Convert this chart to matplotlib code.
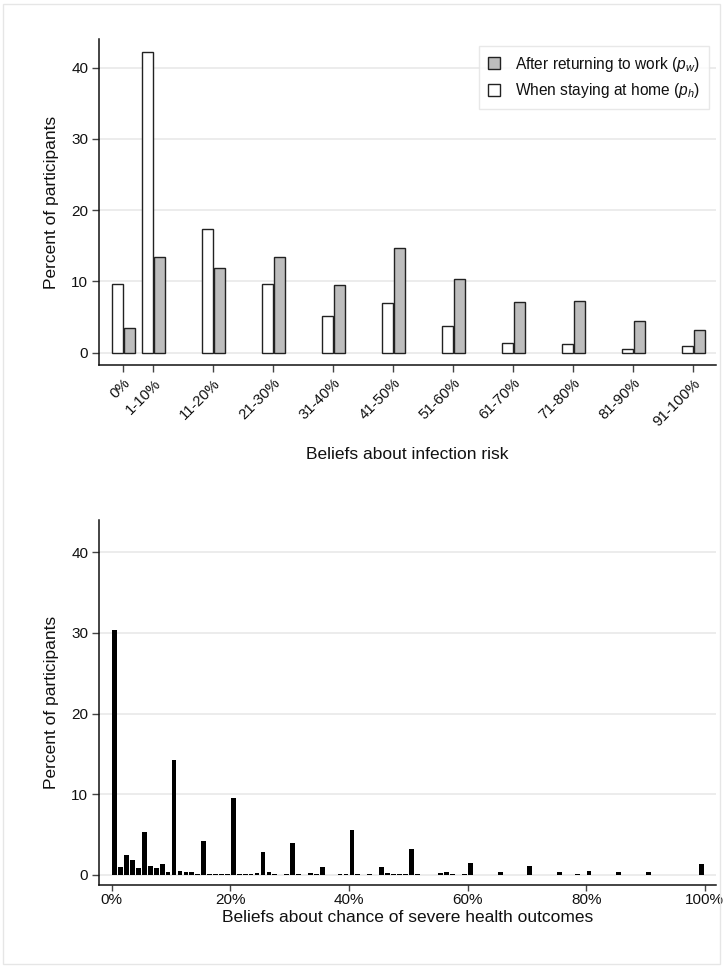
import matplotlib
matplotlib.use("Agg")
import matplotlib.pyplot as plt
from matplotlib.patches import Patch, Rectangle
import numpy as np

plt.rcParams['font.family'] = ['Liberation Sans', 'DejaVu Sans']
plt.rcParams['mathtext.fontset'] = 'custom'
plt.rcParams['mathtext.rm'] = 'Liberation Sans'
plt.rcParams['mathtext.it'] = 'Liberation Sans:italic'

# ---- Top panel data ----
categories = ['0%', '1-10%', '11-20%', '21-30%', '31-40%', '41-50%',
              '51-60%', '61-70%', '71-80%', '81-90%', '91-100%']
cat_pos = [0, 0.5, 1.5, 2.5, 3.5, 4.5, 5.5, 6.5, 7.5, 8.5, 9.5]
home = [9.7, 42.2, 17.3, 9.7, 5.15, 7.0, 3.75, 1.3, 1.2, 0.55, 0.9]
work = [3.5, 13.45, 11.9, 13.45, 9.5, 14.7, 10.4, 7.1, 7.3, 4.4, 3.2]

# ---- Bottom panel data (bins of 1 percentage point starting at 0; last bin holds 99-100) ----
bin_start = list(range(0, 100))
severe = [30.4, 1.0, 2.5, 1.9, 0.9, 5.3, 1.1, 0.9, 1.4, 0.3,
          14.3, 0.5, 0.4, 0.3, 0.1, 4.2, 0.1, 0.1, 0.1, 0.1,
          9.5, 0.1, 0.1, 0.1, 0.2, 2.85, 0.3, 0.1, 0.0, 0.1,
          4.0, 0.1, 0.0, 0.2, 0.1, 1.0, 0.0, 0.0, 0.1, 0.1,
          5.6, 0.1, 0.0, 0.1, 0.0, 1.0, 0.2, 0.1, 0.1, 0.1,
          3.2, 0.1, 0.0, 0.0, 0.0, 0.2, 0.4, 0.1, 0.0, 0.1,
          1.5, 0.0, 0.0, 0.0, 0.0, 0.3, 0.0, 0.0, 0.0, 0.0,
          1.1, 0.0, 0.0, 0.0, 0.0, 0.4, 0.0, 0.0, 0.1, 0.0,
          0.5, 0.0, 0.0, 0.0, 0.0, 0.3, 0.0, 0.0, 0.0, 0.0,
          0.4, 0.0, 0.0, 0.0, 0.0, 0.0, 0.0, 0.0, 0.0, 1.3]
xticks_bottom = [0, 20, 40, 60, 80, 100]
xticklabels_bottom = ['0%', '20%', '40%', '60%', '80%', '100%']
yticks = [0, 10, 20, 30, 40]

W, H = 724, 967
fig = plt.figure(figsize=(W / 100, H / 100), dpi=100)
fig.patch.set_facecolor('white')
fig.add_artist(Rectangle((3 / W, 3 / H), 1 - 7 / W, 1 - 7 / H, transform=fig.transFigure,
                         fill=False, edgecolor='#e6e6e6', linewidth=1.0))

grid_col = '#ebebeb'
txt_col = '#111111'
axis_col = '#111111'


def style_axes(ax):
    for s in ['top', 'right']:
        ax.spines[s].set_visible(False)
    for s in ['left', 'bottom']:
        ax.spines[s].set_color(axis_col)
        ax.spines[s].set_linewidth(1.1)
    ax.set_yticks(yticks)
    ax.tick_params(axis='both', direction='out', length=5, width=1.0, color='#444444',
                   labelsize=11, labelcolor=txt_col, pad=3)
    ax.yaxis.grid(True, color=grid_col, linewidth=1.3)
    ax.set_axisbelow(True)
    ax.set_ylabel('Percent of participants', fontsize=12.5, color=txt_col, labelpad=9)


# ---- Top panel ----
ax1 = fig.add_axes([99.3 / W, 1 - 365 / H, (716 - 99.3) / W, (365 - 39) / H])
bw = 0.183
gap = 0.017
pos = np.array(cat_pos)
ax1.bar(pos - bw / 2, home, width=bw, color='white', edgecolor='#222222', linewidth=1.0,
        label=r'When staying at home ($p_h$)', zorder=3)
ax1.bar(pos + gap + bw / 2, work, width=bw, color='#bdbdbd', edgecolor='#222222', linewidth=1.0,
        label=r'After returning to work ($p_w$)', zorder=3)
ax1.set_xlim(-0.4, 9.88)
ax1.set_ylim(-1.72, 44.0)
style_axes(ax1)
ax1.set_xticks(cat_pos)
ax1.set_xticklabels(categories, rotation=45, ha='right', rotation_mode='anchor', fontsize=10.8)
ax1.set_xlabel('Beliefs about infection risk', fontsize=12.5, color=txt_col, labelpad=13)

handles = [Patch(facecolor='#bdbdbd', edgecolor='#222222', linewidth=1.0),
           Patch(facecolor='white', edgecolor='#222222', linewidth=1.0)]
labels = [r'After returning to work ($p_w$)', r'When staying at home ($p_h$)']
leg = ax1.legend(handles, labels, loc='upper right', bbox_to_anchor=(0.9886, 0.9785),
                 fontsize=11.2, frameon=True, fancybox=False, handlelength=0.75, handleheight=0.75,
                 handletextpad=1.0, borderpad=0.55, labelspacing=0.5, borderaxespad=0)
leg.get_frame().set_edgecolor('#e3e3e3')
leg.get_frame().set_linewidth(1.0)
for t in leg.get_texts():
    t.set_color(txt_col)

# ---- Bottom panel ----
ax2 = fig.add_axes([99.3 / W, 1 - 885 / H, (716 - 99.3) / W, (885 - 520) / H])
centers = np.array(bin_start) + 0.5
ax2.bar(centers, severe, width=0.8, color='black', edgecolor='none', zorder=3)
ax2.set_xlim(-2.1, 101.9)
ax2.set_ylim(-1.25, 44.0)
style_axes(ax2)
ax2.tick_params(axis='x', length=4, pad=2)
ax2.set_xticks(xticks_bottom)
ax2.set_xticklabels(xticklabels_bottom)
ax2.set_xlabel('Beliefs about chance of severe health outcomes', fontsize=12.5, color=txt_col, labelpad=2)

fig.savefig('out.png', dpi=100, facecolor='white')
